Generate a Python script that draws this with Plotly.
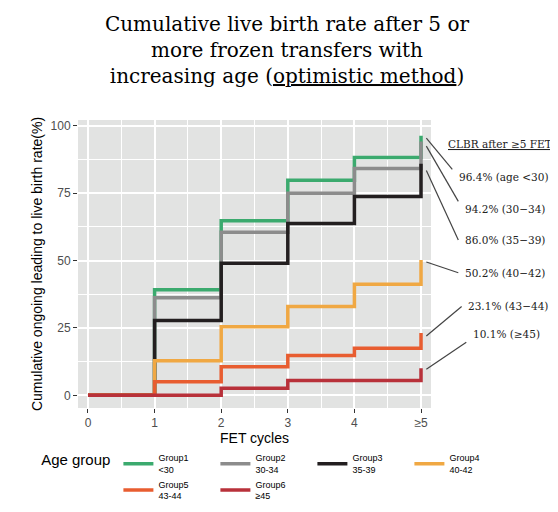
import plotly.graph_objects as go

cycles = [0, 1, 2, 3, 4, 5]
tick_text = ["0", "1", "2", "3", "4", "≥5"]
groups = ["Group1<br>&lt;30", "Group2<br>30-34", "Group3<br>35-39", "Group4<br>40-42", "Group5<br>43-44", "Group6<br>≥45"]
g1 = [0, 39.2, 64.8, 79.8, 88.3, 96.4]
g2 = [0, 36.2, 60.5, 75.0, 84.2, 94.2]
g3 = [0, 27.8, 49.0, 63.8, 73.8, 86.0]
g4 = [0, 12.8, 25.5, 33.0, 41.2, 50.2]
g5 = [0, 5.0, 10.6, 14.8, 17.5, 23.1]
g6 = [0, 0.0, 2.6, 5.5, 5.5, 10.1]
series = [g1, g2, g3, g4, g5, g6]
colors = ["#3BAA6E", "#8C8C8C", "#231F20", "#F0A843", "#E85D30", "#B8313A"]
labels = ["96.4% (age &lt;30)", "94.2% (30−34)", "86.0% (35−39)", "50.2% (40−42)", "23.1% (43−44)", "10.1% (≥45)"]
label_y = [83.9, 72.0, 57.7, 45.5, 33.0, 19.7]
label_x = [5.54, 5.63, 5.63, 5.63, 5.68, 5.75]
line_start_y = [95.5, 92.5, 83.5, 49.5, 22.0, 9.7]

XR = [-0.15, 5.15]
YR = [-4.7, 102.2]
def px(x):
    return (x - XR[0]) / (XR[1] - XR[0])
def py(y):
    return (y - YR[0]) / (YR[1] - YR[0])

fig = go.Figure()
for name, ys, c in zip(groups, series, colors):
    fig.add_trace(go.Scatter(x=cycles, y=ys, mode="lines", line=dict(shape="hv", color=c, width=3.5), name=name))

fig.add_shape(type="line", x0=XR[0], x1=5, y0=50, y1=50, line=dict(dash="dot", color="black", width=1), layer="below")
for xv, top in [(2, 49), (3, 49), (5, 50)]:
    fig.add_shape(type="line", x0=xv, x1=xv, y0=YR[0], y1=top, line=dict(dash="dot", color="black", width=1), layer="below")

fig.add_annotation(x=px(5.38), y=py(96.4), xref="paper", yref="paper", text="<u>CLBR after ≥5 FETs</u>",
                   showarrow=False, xanchor="left", font=dict(family="DejaVu Serif", size=10.5, color="#222"))
for lx, ly, sy, t in zip(label_x, label_y, line_start_y, labels):
    fig.add_shape(type="line", xref="paper", yref="paper", x0=px(5.08), y0=py(sy), x1=px(lx - 0.07), y1=py(ly),
                  line=dict(color="#444", width=1.2))
    fig.add_annotation(x=px(lx), y=py(ly), xref="paper", yref="paper", text=t, showarrow=False, xanchor="left",
                       font=dict(family="DejaVu Serif", size=10.5, color="#222"))

fig.update_layout(
    width=558, height=512,
    margin=dict(l=70, r=135, t=112, b=102),
    paper_bgcolor="white", plot_bgcolor="#E2E3E2",
    title=dict(text="Cumulative live birth rate after 5 or<br>more frozen transfers with<br>increasing age (<u>optimistic method</u>)",
               x=0.5, xanchor="center", y=0.955, yanchor="top",
               font=dict(family="DejaVu Serif", size=20, color="black")),
    font=dict(family="Liberation Sans", color="black"),
    legend=dict(orientation="h", x=-0.11, y=-0.13, xanchor="left", yanchor="top",
                title=dict(text="Age group", font=dict(size=15)), font=dict(size=9),
                itemwidth=30, entrywidth=52, entrywidthmode="pixels", tracegroupgap=0),
    xaxis=dict(range=XR, tickvals=cycles, ticktext=tick_text, showgrid=True, gridcolor="white", gridwidth=1.5,
               zeroline=False, ticks="outside", ticklen=4, tickcolor="#333", tickfont=dict(color="#4D4D4D", size=12),
               title=dict(text="FET cycles", font=dict(size=14), standoff=2),
               minor=dict(dtick=0.5, showgrid=True, gridcolor="white", gridwidth=0.7)),
    yaxis=dict(range=YR, tickvals=[0, 25, 50, 75, 100], showgrid=True, gridcolor="white", gridwidth=1.5,
               zeroline=False, ticks="outside", ticklen=4, tickcolor="#333", tickfont=dict(color="#4D4D4D", size=12),
               title=dict(text="Cumulative ongoing leading to live birth rate(%)", font=dict(size=14), standoff=4),
               minor=dict(dtick=12.5, showgrid=True, gridcolor="white", gridwidth=0.7)),
)
fig.write_html("out.html")
